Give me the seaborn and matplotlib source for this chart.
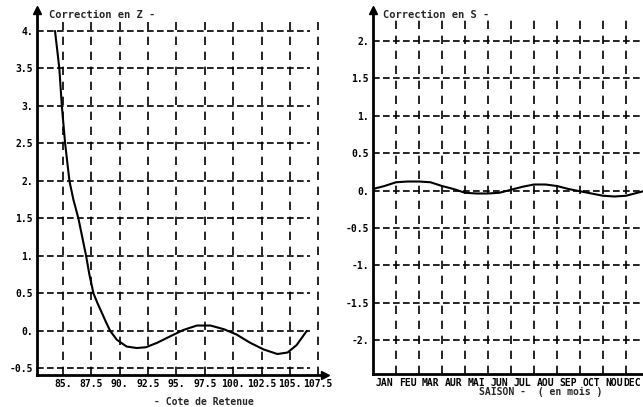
import matplotlib
matplotlib.use("Agg")
import matplotlib.pyplot as plt
import matplotlib.transforms as mtransforms
import seaborn as sns
import pandas as pd

# Left panel: correction as a function of the reservoir level
cote = [84.29, 84.67, 84.89, 85.18, 85.56, 85.91, 86.35, 87.03, 87.32, 87.68, 88.03,
        88.42, 88.77, 89.15, 89.74, 90.6, 91.5, 92.3, 93.3, 94.5, 95.6, 96.8, 98.0,
        99.2, 100.3, 101.5, 102.7, 103.9, 104.8, 105.6, 106.5]
corr_z = [4.0, 3.5, 3.0, 2.5, 2.0, 1.75, 1.5, 1.0, 0.75, 0.5, 0.37,
          0.24, 0.12, 0.0, -0.12, -0.21, -0.23, -0.22, -0.16, -0.07, 0.01, 0.07, 0.07,
          0.02, -0.05, -0.16, -0.25, -0.31, -0.29, -0.19, 0.0]
cote_ticks = [85, 87.5, 90, 92.5, 95, 97.5, 100, 102.5, 105, 107.5]
cote_labels = ["85.", "87.5", "90.", "92.5", "95.", "97.5", "100.", "102.5", "105.", "107.5"]
z_ticks = [-0.5, 0, 0.5, 1, 1.5, 2, 2.5, 3, 3.5, 4]
z_labels = ["-0.5", "0.", "0.5", "1.", "1.5", "2.", "2.5", "3.", "3.5", "4."]

# Right panel: seasonal correction (months)
mois = [0, 0.5, 1, 1.5, 2, 2.5, 3, 3.5, 4, 4.5, 5, 5.5, 6, 6.5, 7, 7.5, 8, 8.5,
        9, 9.5, 10, 10.5, 11, 11.5, 11.75]
corr_s = [0.02, 0.06, 0.11, 0.12, 0.12, 0.11, 0.06, 0.02, -0.03, -0.04, -0.04, -0.03,
          0.01, 0.05, 0.08, 0.08, 0.06, 0.02, -0.01, -0.04, -0.07, -0.08, -0.07,
          -0.03, -0.01]
mois_labels = ["JAN", "FEU", "MAR", "AUR", "MAI", "JUN", "JUL", "AOU", "SEP", "OCT", "NOU", "DEC"]
s_ticks = [-2, -1.5, -1, -0.5, 0, 0.5, 1, 1.5, 2]
s_labels = ["-2.", "-1.5", "-1.", "-0.5", "0.", "0.5", "1.", "1.5", "2."]

sns.set_style("white")
plt.rcParams['font.family'] = ['DejaVu Sans Mono']
plt.rcParams['font.weight'] = 'bold'

W, H = 643, 407
fig = plt.figure(figsize=(W / 100, H / 100), dpi=100)
fig.patch.set_facecolor("white")

hdash = (0, (4, 2))
vdash = (0, (5, 4))


def style_axes(ax):
    for s in ["top", "right"]:
        ax.spines[s].set_visible(False)
    for s in ["left", "bottom"]:
        ax.spines[s].set_linewidth(2)
        ax.spines[s].set_color("black")
    ax.tick_params(length=0, labelsize=7, pad=3, colors="black")
    for lab in ax.get_xticklabels() + ax.get_yticklabels():
        lab.set_fontweight("bold")
    ax.set_xlabel("")
    ax.set_ylabel("")


# ---- left panel
ax1 = fig.add_axes([37 / W, (H - 375) / H, (325 - 37) / W, (375 - 10) / H])
df_z = pd.DataFrame({"cote": cote, "corr": corr_z})
ax1.set_xlim(82.7, 108.1)
ax1.set_ylim(-0.59, 4.28)
ax1.hlines(z_ticks, 82.7, 106.8, colors="black", linestyles=hdash, lw=1.2, zorder=1)
ax1.vlines(cote_ticks, -0.59, 4.12, colors="black", linestyles=vdash, lw=1.2, zorder=1)
sns.lineplot(data=df_z, x="cote", y="corr", ax=ax1, color="black", lw=1.5,
             sort=False, estimator=None, zorder=3)
ax1.set_xticks(cote_ticks, cote_labels)
ax1.set_yticks(z_ticks, z_labels)
style_axes(ax1)
ax1.plot(0, 1, "^k", ms=6, transform=ax1.transAxes, clip_on=False)
ax1.plot(1, 0, ">k", ms=6, transform=ax1.transAxes, clip_on=False)
ax1.text(0.04, 0.985, "Correction en Z -", transform=ax1.transAxes,
         fontsize=7.5, fontweight="bold", va="center", ha="left")
ax1.text(0.58, -0.075, "- Cote de Retenue", transform=ax1.transAxes,
         fontsize=7, fontweight="bold", va="center", ha="center")

# ---- right panel
ax2 = fig.add_axes([373 / W, (H - 374) / H, (W - 373) / W, (374 - 10) / H])
df_s = pd.DataFrame({"mois": mois, "corr": corr_s})
ax2.set_xlim(0, 11.74)
ax2.set_ylim(-2.45, 2.41)
ax2.hlines(s_ticks, 0, 11.74, colors="black", linestyles=hdash, lw=1.2, zorder=1)
ax2.vlines(range(1, 12), -2.45, 2.28, colors="black", linestyles=vdash, lw=1.2, zorder=1)
sns.lineplot(data=df_s, x="mois", y="corr", ax=ax2, color="black", lw=1.5,
             sort=False, estimator=None, zorder=3)
ax2.set_xticks([i + 0.5 for i in range(12)], mois_labels)
ax2.set_yticks(s_ticks, s_labels)
style_axes(ax2)
# last month label sits at the very edge of the sheet: nudge it inside
last = ax2.get_xticklabels()[-1]
last.set_transform(last.get_transform()
                   + mtransforms.ScaledTranslation(-5 / 100, 0, fig.dpi_scale_trans))
ax2.plot(0, 1, "^k", ms=6, transform=ax2.transAxes, clip_on=False)
ax2.text(0.037, 0.985, "Correction en S -", transform=ax2.transAxes,
         fontsize=7.5, fontweight="bold", va="center", ha="left")
ax2.text(0.62, -0.05, "SAISON -  ( en mois )", transform=ax2.transAxes,
         fontsize=7, fontweight="bold", va="center", ha="center")

fig.savefig("out.png", dpi=100, facecolor="white")
